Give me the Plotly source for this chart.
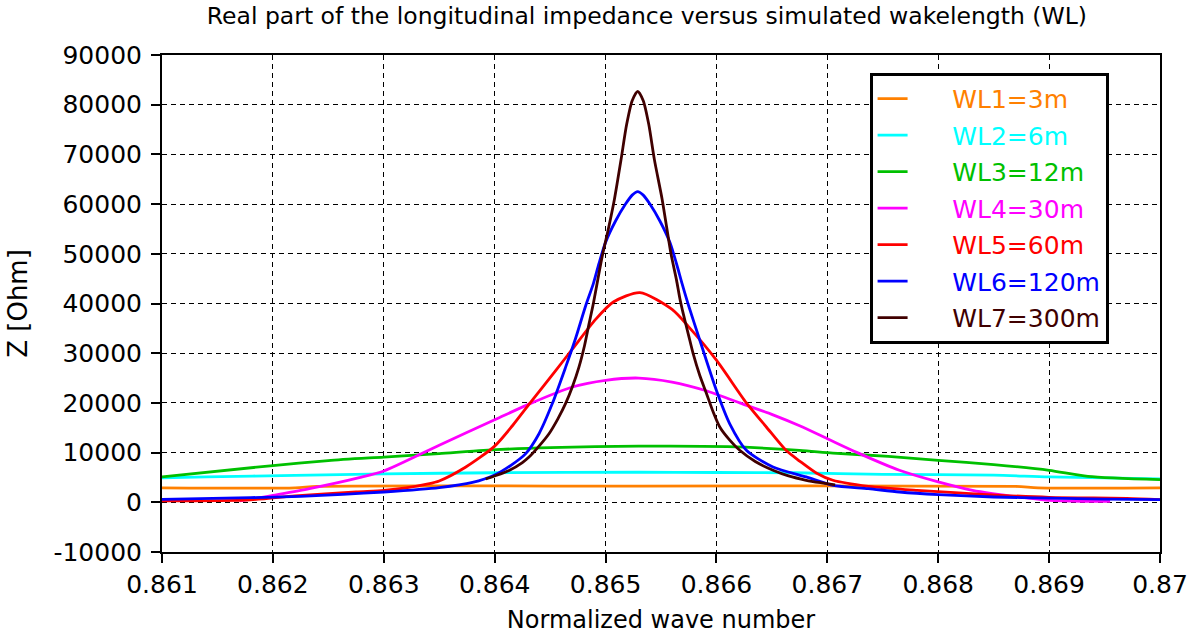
import plotly.graph_objects as go

# ---------------- data ----------------
wl1_x = [0.861, 0.8622, 0.8624, 0.8653, 0.8687, 0.8689, 0.870]
wl1_z = [2900, 2900, 3200, 3250, 3200, 2900, 2900]

wl2_x = [0.861, 0.8614, 0.8622, 0.863, 0.864, 0.8653, 0.866, 0.8667, 0.8675, 0.8685, 0.869, 0.870]
wl2_z = [4900, 5100, 5430, 5700, 5950, 6050, 6000, 5950, 5630, 5450, 5100, 4700]

wl3_x = [0.861, 0.862, 0.8625, 0.863, 0.8635, 0.8639, 0.8645, 0.8653, 0.8661, 0.86675,
         0.86705, 0.86755, 0.868, 0.8685, 0.869, 0.86935, 0.870]
wl3_z = [5100, 7400, 8400, 9100, 9800, 10460, 11000, 11300, 11200, 10460,
         9900, 9250, 8450, 7580, 6440, 5230, 4560]

wl4_x = [0.8617, 0.8619, 0.862, 0.86233, 0.86278, 0.863, 0.8635, 0.864, 0.86432, 0.8647,
         0.865, 0.8653, 0.8656, 0.8659, 0.86621, 0.86651, 0.86675, 0.867, 0.86727, 0.86765,
         0.868, 0.86831, 0.86849, 0.8688, 0.869, 0.8693, 0.86955]
wl4_z = [300, 1000, 1400, 2750, 4960, 6300, 11500, 16600, 19860, 23200,
         24550, 25000, 24200, 22500, 20000, 17600, 15400, 12800, 10000, 6440,
         4100, 2400, 1750, 870, 400, 200, 200]

wl5_x = [0.861, 0.8618, 0.8622, 0.86275, 0.863, 0.8632, 0.8634, 0.8635, 0.86374, 0.864,
         0.86416, 0.86432, 0.86455, 0.8647, 0.86491, 0.86507, 0.86531, 0.8656, 0.86575, 0.866,
         0.86627, 0.86645, 0.86663, 0.86675, 0.8669, 0.86705, 0.86737, 0.86781, 0.8684, 0.869,
         0.8697, 0.870]
wl5_z = [300, 500, 1300, 2100, 2400, 2900, 3700, 4300, 7100, 11300,
         15400, 20000, 26500, 30800, 36800, 40300, 42200, 38800, 35300, 28600,
         20000, 15150, 10400, 8300, 5900, 4430, 3220, 2410, 1600, 1000,
         800, 550]

wl6_x = [0.861, 0.8618, 0.86225, 0.86263, 0.863, 0.8635, 0.8638, 0.864, 0.86415, 0.86428,
         0.8644, 0.86452, 0.86464, 0.86473, 0.86482, 0.86489, 0.86494, 0.865, 0.86509, 0.86518,
         0.86524, 0.86529, 0.86534, 0.8654, 0.86549, 0.86558, 0.86564, 0.86569, 0.86575, 0.86584,
         0.866, 0.86612, 0.86627, 0.86651, 0.86681, 0.86705, 0.86737, 0.86765, 0.868, 0.8685,
         0.869, 0.8695, 0.870]
wl6_z = [600, 940, 1200, 1600, 2070, 2950, 4000, 5500, 7500, 9800,
         13800, 19860, 27200, 33000, 39500, 44000, 48000, 52300, 56600, 60000,
         61800, 62500, 61800, 60000, 56600, 52300, 48000, 44000, 39500, 33300,
         22500, 15800, 10460, 7100, 5100, 3420, 2750, 2070, 1540, 1070,
         850, 650, 550]

wl7_x = [0.86392, 0.864, 0.86413, 0.86425, 0.86431, 0.8644, 0.86449, 0.86457, 0.86464, 0.8647,
         0.86476, 0.86481, 0.86485, 0.86489, 0.86493, 0.86497, 0.86503, 0.86508, 0.86514, 0.86519,
         0.86524, 0.86529, 0.86534, 0.86539, 0.86544, 0.86551, 0.86555, 0.86559, 0.86564, 0.86567,
         0.8657, 0.86575, 0.86579, 0.86585, 0.86591, 0.86597, 0.86603, 0.86612, 0.86621, 0.86635,
         0.86651, 0.86665, 0.86681, 0.86695, 0.86707]
wl7_z = [4700, 5300, 6400, 8000, 9100, 11300, 13800, 16800, 19900, 23200,
         27200, 31500, 35800, 40000, 44800, 49500, 55500, 61000, 69000, 76000,
         80800, 82700, 80800, 76000, 69000, 61000, 55500, 50000, 44700, 41000,
         38000, 33500, 29900, 25500, 21900, 18200, 15150, 12500, 10460, 8200,
         6440, 5300, 4430, 3900, 3500]

names = ["WL1=3m", "WL2=6m", "WL3=12m", "WL4=30m", "WL5=60m", "WL6=120m", "WL7=300m"]
colors = ["#FF8000", "#00FFFF", "#00C000", "#FF00FF", "#FF0000", "#0000FF", "#400000"]
series_x = [wl1_x, wl2_x, wl3_x, wl4_x, wl5_x, wl6_x, wl7_x]
series_z = [wl1_z, wl2_z, wl3_z, wl4_z, wl5_z, wl6_z, wl7_z]

x_ticks = [0.861, 0.862, 0.863, 0.864, 0.865, 0.866, 0.867, 0.868, 0.869, 0.87]
x_ticktext = ["0.861", "0.862", "0.863", "0.864", "0.865", "0.866", "0.867", "0.868", "0.869", "0.87"]
y_ticks = [-10000, 0, 10000, 20000, 30000, 40000, 50000, 60000, 70000, 80000, 90000]
y_ticktext = ["-10000", "0", "10000", "20000", "30000", "40000", "50000", "60000", "70000", "80000", "90000"]

# ---------------- figure ----------------
fig = go.Figure()
for i, (nm, col, xs, zs) in enumerate(zip(names, colors, series_x, series_z)):
    fig.add_trace(go.Scatter(
        x=xs, y=zs, mode="lines",
        name=f"<span style='color:{col}'>&nbsp;&nbsp;&nbsp;&nbsp;&nbsp;{nm}</span>",
        legendgroup=f"g{i}",
        line=dict(color=col, width=2.8, shape="spline", smoothing=0.7),
    ))

FONT = "DejaVu Sans"
fig.update_layout(
    width=1198, height=634,
    margin=dict(l=162, r=38, t=55, b=82),
    paper_bgcolor="white", plot_bgcolor="white",
    font=dict(family=FONT, color="black"),
    title=dict(
        text="Real part of the longitudinal impedance versus simulated wakelength (WL)",
        x=0.54, xanchor="center", y=0.988, yanchor="top",
        font=dict(family=FONT, size=23.5, color="black"),
    ),
    showlegend=True,
    legend=dict(
        x=0.709, y=0.964, xanchor="left", yanchor="top",
        bgcolor="white", bordercolor="black", borderwidth=3,
        font=dict(family=FONT, size=25),
        tracegroupgap=1,
    ),
)
fig.update_xaxes(
    range=[0.861, 0.87], tickvals=x_ticks, ticktext=x_ticktext,
    showgrid=True, gridcolor="black", gridwidth=1.3, griddash="5px,4px",
    zeroline=False, automargin=False,
    showline=True, linecolor="black", linewidth=2, mirror=True,
    ticks="outside", ticklen=9, tickwidth=2, tickcolor="black",
    tickfont=dict(family=FONT, size=25, color="black"),
    title=dict(text="Normalized wave number", font=dict(family=FONT, size=24, color="black"), standoff=14),
)
fig.update_yaxes(
    range=[-10000, 90000], tickvals=y_ticks, ticktext=y_ticktext,
    showgrid=True, gridcolor="black", gridwidth=1.3, griddash="5px,4px",
    zeroline=False, automargin=False, ticklabelstandoff=4,
    showline=True, linecolor="black", linewidth=2, mirror=True,
    ticks="outside", ticklen=9, tickwidth=2, tickcolor="black",
    tickfont=dict(family=FONT, size=25, color="black"),
    title=dict(text="Z [Ohm]", font=dict(family=FONT, size=26, color="black"), standoff=18),
)

fig.write_html("out.html")
